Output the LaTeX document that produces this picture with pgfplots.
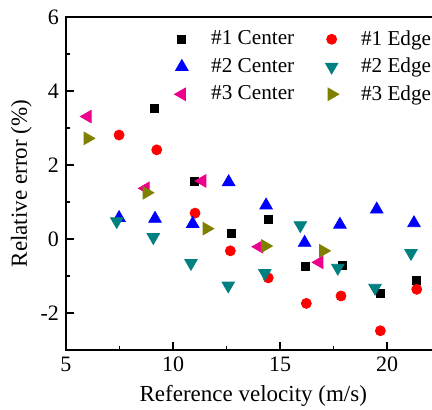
\documentclass[border=0pt]{standalone}
\usepackage{fontspec}
\setmainfont{Liberation Serif}
\usepackage{pgfplots}
\pgfplotsset{compat=1.18}
\definecolor{cteal}{RGB}{0,128,128}
\definecolor{colive}{RGB}{128,128,0}
\begin{document}
\begin{tikzpicture}
\begin{axis}[
  at={(0,0)}, anchor=south west,
  scale only axis, width=187.25pt, height=166.5pt,
  xmin=5, xmax=22.5, ymin=-3, ymax=6,
  xtick={5,10,15,20}, ytick={-2,0,2,4,6},
  minor x tick num=1, minor y tick num=1,
  tick align=inside, xtick pos=bottom, ytick pos=left,
  major tick length=4pt, minor tick length=2pt,
  axis line style={line width=0.7pt},
  every tick/.style={line width=0.7pt, black},
  /pgf/number format/assume math mode=true,
  tick label style={font=\rmfamily\fontsize{11}{13}\selectfont},
  label style={font=\rmfamily\fontsize{11.5}{13}\selectfont},
  ylabel style={yshift=-2.5pt},
  xlabel={Reference velocity (m/s)},
  ylabel={Relative error (\%)},
  legend columns=2,
  legend cell align=left,
  legend image code/.code={\path (-3pt,0pt) (12.5pt,0pt); \draw[mark repeat=1,#1] plot coordinates {(0pt,0pt)};},
  legend style={draw=none, fill=none, font=\rmfamily\fontsize{10.6}{13}\selectfont,
    at={(rel axis cs:0.273,0.985)}, anchor=north west, row sep=0.9pt,
    /tikz/every even column/.append style={column sep=13.5pt}},
]
\addplot[only marks, mark=square*, mark size=2pt, color=black] coordinates {
(9.11,3.52) (10.98,1.57) (12.74,0.14) (14.45,0.52) (16.2,-0.75) (17.9,-0.70) (19.67,-1.48) (21.36,-1.12)};
\addlegendentry{\#1 Center}
\addplot[only marks, mark=*, mark size=2.5pt, color=red] coordinates {
(7.48,2.81) (9.24,2.41) (11.03,0.70) (12.68,-0.32) (14.45,-1.05) (16.23,-1.74) (17.85,-1.54) (19.69,-2.48) (21.39,-1.36)};
\addlegendentry{\#1 Edge}
\addplot[only marks, mark=triangle*, mark size=3.6pt, color=blue] coordinates {
(7.48,0.57) (9.16,0.55) (10.92,0.41) (12.6,1.54) (14.35,0.91) (16.15,-0.10) (17.8,0.39) (19.52,0.80) (21.26,0.43)};
\addlegendentry{\#2 Center}
\addplot[only marks, mark=triangle*, mark size=3.6pt, mark options={rotate=180}, color=cteal] coordinates {
(7.37,0.48) (9.08,0.05) (10.84,-0.65) (12.58,-1.26) (14.29,-0.92) (15.95,0.37) (17.7,-0.78) (19.44,-1.32) (21.12,-0.38)};
\addlegendentry{\#2 Edge}
\addplot[only marks, mark=triangle*, mark size=3.6pt, mark options={rotate=90}, color=magenta] coordinates {
(6.01,3.31) (8.72,1.37) (11.37,1.57) (14.03,-0.21) (16.84,-0.63)};
\addlegendentry{\#3 Center}
\addplot[only marks, mark=triangle*, mark size=3.6pt, mark options={rotate=-90}, color=colive] coordinates {
(6.01,2.72) (8.77,1.25) (11.57,0.28) (14.31,-0.19) (17.02,-0.32)};
\addlegendentry{\#3 Edge}
\end{axis}
\pgfresetboundingbox
\path[use as bounding box] (-33pt,-29.5pt) rectangle (183pt,175pt);
\end{tikzpicture}
\end{document}
